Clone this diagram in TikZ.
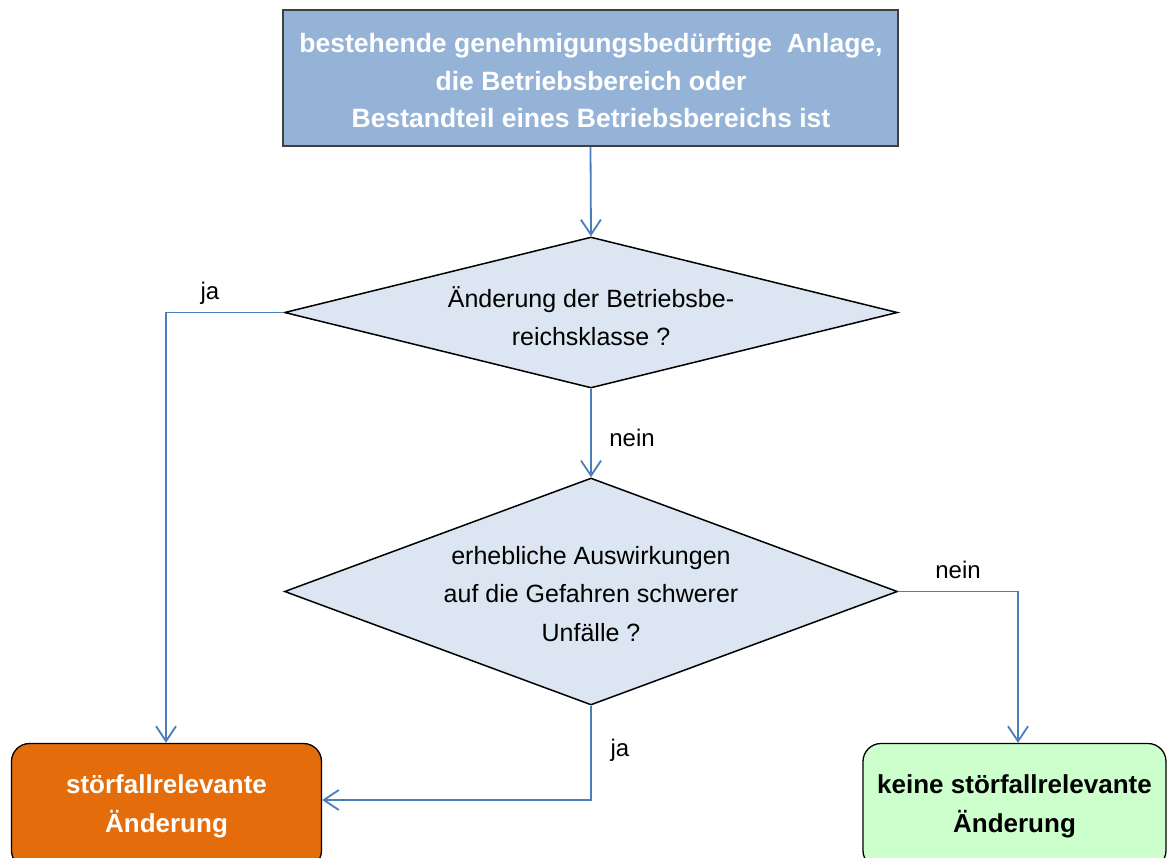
\documentclass[tikz,border=0pt]{standalone}
\usepackage{fontspec}
\setmainfont{Liberation Sans}
\usetikzlibrary{shapes.geometric,arrows.meta}
\definecolor{topfill}{HTML}{95B3D7}
\definecolor{diafill}{HTML}{DCE6F2}
\definecolor{linecol}{HTML}{4A7EBB}
\definecolor{orangefill}{HTML}{E46C0A}
\definecolor{greenfill}{HTML}{CCFFCC}
\definecolor{bordergray}{HTML}{3F3F3F}
\begin{document}
\begin{tikzpicture}[x=1pt,y=-1pt,
  topbox/.style={draw=bordergray,line width=1.5pt,fill=topfill,text=white,
    font=\fontsize{26.5}{37.5}\selectfont\bfseries,align=center,
    minimum width=615pt,minimum height=136pt,inner sep=0pt},
  decision/.style={draw=black,line width=1.5pt,fill=diafill,shape=diamond,
    font=\fontsize{25}{38.5}\selectfont,align=center,inner sep=0pt},
  endbox/.style={draw=black,line width=1.3pt,rounded corners=18pt,
    font=\fontsize{26}{39}\selectfont\bfseries,align=center,
    minimum width=310pt,minimum height=125pt,inner sep=0pt},
  conn/.style={draw=linecol,line width=1.8pt},
  arr/.style={conn,-{Straight Barb[length=15pt,width=20pt,line width=1.8pt]}},
  lbl/.style={font=\fontsize{24}{28}\selectfont,inner sep=0pt}
]
\useasboundingbox (0,0) rectangle (1170,857);
\node[topbox] (start) at (590.5,78) {};
\node[white,font=\fontsize{26.5}{37.5}\selectfont\bfseries,align=center,inner sep=0pt] (starttext) at (591,81) {bestehende genehmigungsbedürftige\ \ Anlage,\\die Betriebsbereich oder\\Bestandteil eines Betriebsbereichs ist};
\node[decision,aspect=4.06,minimum width=613pt,minimum height=151pt] (d1) at (591,312.5) {};
\node[font=\fontsize{25}{38.5}\selectfont,align=center,inner sep=0pt] (d1text) at (591,316) {Änderung der Betriebsbe-\\reichsklasse ?};
\node[decision,aspect=2.7,minimum width=613pt,minimum height=227pt] (d2) at (591,591.5) {};
\node[font=\fontsize{25}{38.5}\selectfont,align=center,inner sep=0pt] (d2text) at (591,594) {erhebliche Auswirkungen\\auf die Gefahren schwerer\\Unfälle ?};
\node[endbox,fill=orangefill,text=white] (yes) at (166.5,806) {störfallrelevante\\Änderung};
\node[endbox,fill=greenfill,text=black,minimum width=303pt] (no) at (1014.5,806) {keine störfallrelevante\\Änderung};
\coordinate (c1) at (166,312.5);
\coordinate (c2) at (1018,591.5);
\coordinate (c3) at (591,800);
\draw[arr] (start.south) -- (d1.north);
\draw[arr] (d1.west) -- (c1) -- (c1 |- yes.north);
\draw[arr] (d1.south) -- (d2.north);
\draw[arr] (d2.east) -- (c2) -- (c2 |- no.north);
\draw[arr] (d2.south) -- (c3) -- (c3 -| yes.east);
\node[lbl] (l1) at (210,293) {ja};
\node[lbl] (l2) at (632,438) {nein};
\node[lbl] (l3) at (958,570) {nein};
\node[lbl] (l4) at (620,750) {ja};
\end{tikzpicture}
\end{document}
